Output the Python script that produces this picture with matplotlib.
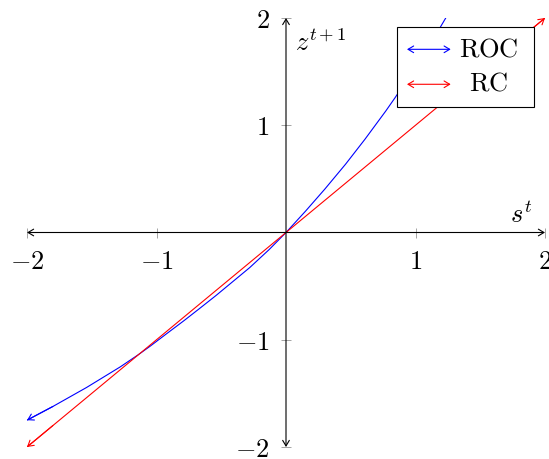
import numpy as np
import matplotlib
matplotlib.use("Agg")
import matplotlib.pyplot as plt
from matplotlib.patches import Rectangle

plt.rcParams['mathtext.fontset'] = 'cm'

# valeurs
s_roc = [-2.0, -1.8, -1.54, -1.28, -1.14, -1.05, -0.92, -0.79, -0.67, -0.54, -0.4, -0.28, -0.13, 0.0,
         0.15, 0.30, 0.46, 0.61, 0.77, 0.84, 1.0, 1.19, 1.25]
z_roc = [-1.75, -1.622, -1.445, -1.253, -1.139, -1.061, -0.942, -0.824, -0.711, -0.587, -0.447, -0.327, -0.159, 0.0,
         0.198, 0.405, 0.637, 0.87, 1.132, 1.253, 1.542, 1.911, 2.034]
s_rc = [-2.0, 2.0]
z_rc = [-2.0, 2.0]
ticks = [-2, -1, 1, 2]
tick_labels = ['$-2$', '$-1$', '$1$', '$2$']

fs = 19
arrow_head = '->,head_length=0.5,head_width=0.3'

fig = plt.figure(figsize=(5.49, 4.59), dpi=100)
ax = fig.add_axes([27/549, 12/459, 518/549, 429/459])
ax.set_xlim(-2, 2)
ax.set_ylim(-2, 2)

# axes au milieu
for side in ['top', 'right']:
    ax.spines[side].set_visible(False)
for side in ['left', 'bottom']:
    ax.spines[side].set_position(('data', 0))
    ax.spines[side].set_visible(False)
ax.set_xticks(ticks)
ax.set_xticklabels(tick_labels)
ax.set_yticks(ticks)
ax.set_yticklabels(tick_labels)
ax.tick_params(direction='inout', length=7.7, width=0.5, color='gray',
               labelsize=fs, pad=8, top=False, right=False)

ax.annotate('', xy=(2, 0), xytext=(-2, 0), annotation_clip=False,
            arrowprops=dict(arrowstyle='<->,head_length=0.5,head_width=0.3', mutation_scale=8,
                            color='black', lw=0.8, shrinkA=0, shrinkB=0))
ax.annotate('', xy=(0, 2), xytext=(0, -2), annotation_clip=False,
            arrowprops=dict(arrowstyle='<->,head_length=0.5,head_width=0.3', mutation_scale=8,
                            color='black', lw=0.8, shrinkA=0, shrinkB=0))

# courbes
ax.plot(s_roc, z_roc, color='blue', lw=0.8)
ax.annotate('', xy=(s_roc[0], z_roc[0]), xytext=(s_roc[1], z_roc[1]), annotation_clip=False,
            arrowprops=dict(arrowstyle=arrow_head, mutation_scale=8, color='blue', lw=0.8,
                            shrinkA=0, shrinkB=0))

ax.plot(s_rc, z_rc, color='red', lw=0.8)
ax.annotate('', xy=(s_rc[0], z_rc[0]), xytext=(-1.8, -1.8), annotation_clip=False,
            arrowprops=dict(arrowstyle=arrow_head, mutation_scale=8, color='red', lw=0.8,
                            shrinkA=0, shrinkB=0))
ax.annotate('', xy=(s_rc[-1], z_rc[-1]), xytext=(1.8, 1.8), annotation_clip=False,
            arrowprops=dict(arrowstyle=arrow_head, mutation_scale=8, color='red', lw=0.8,
                            shrinkA=0, shrinkB=0))

# labels des axes
ax.text(1.9, 0.09, '$s^t$', fontsize=fs, ha='right', va='baseline')
ax.text(0.07, 1.69, '$z^{t+1}$', fontsize=fs, ha='left', va='baseline')

# légende (dessinée à la main pour avoir les flèches et le texte centré)
ax.add_patch(Rectangle((0.714, 0.7925), 0.265, 0.1865, transform=ax.transAxes,
                       facecolor='white', edgecolor='black', lw=0.8, zorder=5))
for y_arr, y_txt, col, lab in [(0.927, 0.9098, 'blue', 'ROC'), (0.8455, 0.83, 'red', 'RC')]:
    ax.annotate('', xy=(0.818, y_arr), xytext=(0.7336, y_arr), xycoords='axes fraction',
                arrowprops=dict(arrowstyle='<->,head_length=0.5,head_width=0.3', mutation_scale=8,
                                color=col, lw=0.8, shrinkA=0, shrinkB=0), zorder=6)
    ax.text(0.891, y_txt, r'$\mathrm{' + lab + '}$', transform=ax.transAxes, fontsize=fs,
            ha='center', va='baseline', zorder=6)

fig.savefig('out.png', dpi=100)
